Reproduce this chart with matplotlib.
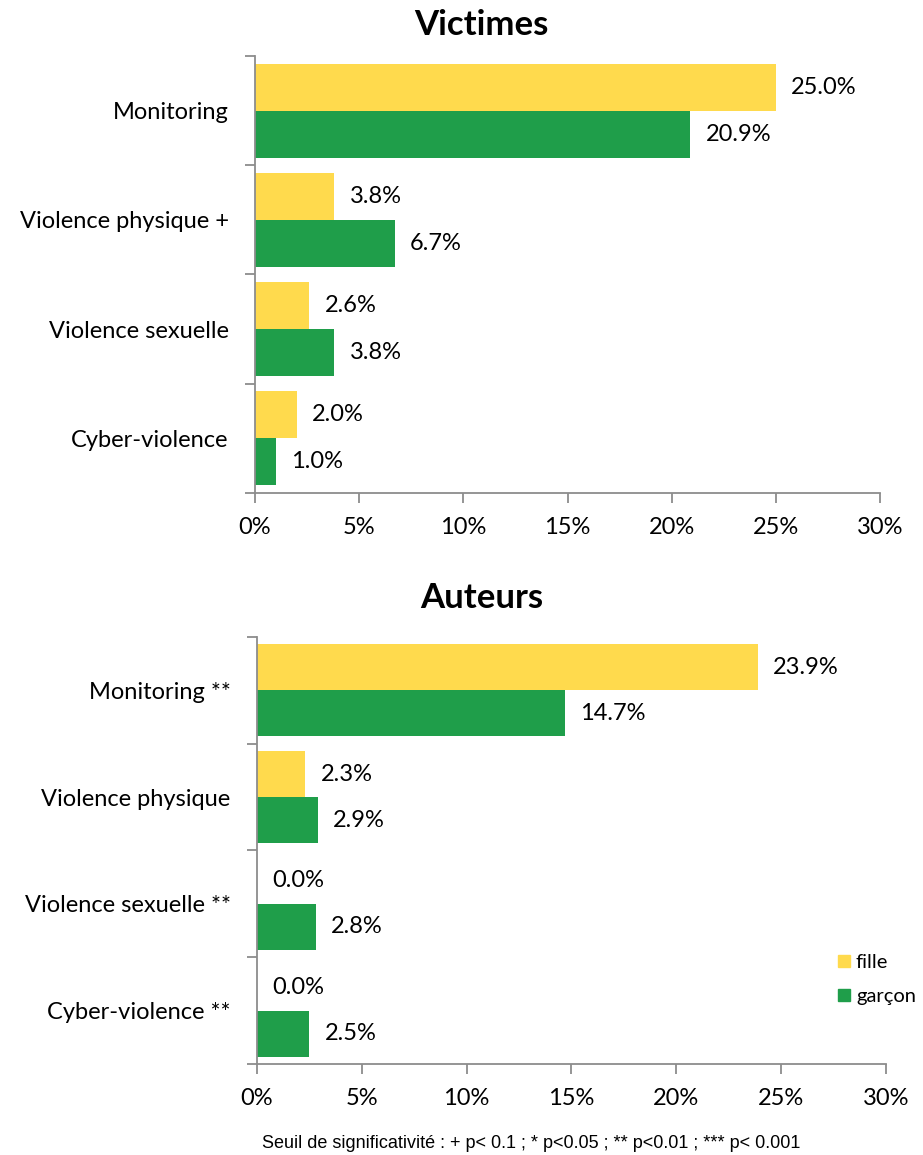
import matplotlib

matplotlib.use("Agg")
import matplotlib.pyplot as plt
from matplotlib.patches import Patch

plt.rcParams["font.family"] = ["Lato", "DejaVu Sans"]

# Prevalence (%) by sex, victims and perpetrators
victim_categories = ["Monitoring", "Violence physique +", "Violence sexuelle", "Cyber-violence"]
victim_fille = [25.0, 3.8, 2.6, 2.0]
victim_garcon = [20.9, 6.7, 3.8, 1.0]

author_categories = ["Monitoring **", "Violence physique", "Violence sexuelle **", "Cyber-violence **"]
author_fille = [23.9, 2.3, 0.0, 0.0]
author_garcon = [14.7, 2.9, 2.8, 2.5]

series_labels = ["fille", "garçon"]
x_ticks = [0, 5, 10, 15, 20, 25, 30]
footnote = "Seuil de significativité : + p< 0.1 ; * p<0.05 ; ** p<0.01 ; *** p< 0.001"

YELLOW = "#FFDA4D"
GREEN = "#1F9E4A"
AXIS_GREY = "#8C8C8C"
BAR_H = 0.43
FS = 17


def draw_panel(ax, categories, fille, garcon):
    n = len(categories)
    pos = list(range(n))
    ax.barh([p - BAR_H / 2 for p in pos], fille, height=BAR_H, color=YELLOW)
    ax.barh([p + BAR_H / 2 for p in pos], garcon, height=BAR_H, color=GREEN)
    for p, vf, vg in zip(pos, fille, garcon):
        ax.annotate(f"{vf:.1f}%", (vf, p - BAR_H / 2), xytext=(11, 0),
                    textcoords="offset points", va="center", ha="left", fontsize=FS)
        ax.annotate(f"{vg:.1f}%", (vg, p + BAR_H / 2), xytext=(11, 0),
                    textcoords="offset points", va="center", ha="left", fontsize=FS)

    ax.set_xlim(0, 30)
    ax.set_ylim(n - 0.5, -0.5)
    ax.set_xticks(x_ticks)
    ax.set_xticklabels([f"{t}%" for t in x_ticks], fontsize=FS)
    ax.set_yticks(pos)
    ax.set_yticklabels(categories, fontsize=FS)
    ax.set_yticks([p - 0.5 for p in range(n + 1)], minor=True)

    for side in ("top", "right"):
        ax.spines[side].set_visible(False)
    for side in ("left", "bottom"):
        ax.spines[side].set_color(AXIS_GREY)
        ax.spines[side].set_linewidth(1.3)
    ax.tick_params(axis="y", which="major", length=0, pad=19)
    ax.tick_params(axis="y", which="minor", length=7, width=1.3, color=AXIS_GREY)
    ax.tick_params(axis="x", length=7, width=1.3, color=AXIS_GREY, pad=10)


fig = plt.figure(figsize=(9.23, 11.55), dpi=100)
ax_v = fig.add_axes([0.2763, 0.5732, 0.6771, 0.3784])
ax_a = fig.add_axes([0.2784, 0.0788, 0.6815, 0.3697])

draw_panel(ax_v, victim_categories, victim_fille, victim_garcon)
draw_panel(ax_a, author_categories, author_fille, author_garcon)

fig.text(0.522, 1 - 25 / 1155, "Victimes", ha="center", va="center",
         fontsize=25, fontweight="bold")
fig.text(0.522, 1 - 598 / 1155, "Auteurs", ha="center", va="center",
         fontsize=25, fontweight="bold")

fig.legend(handles=[Patch(color=YELLOW), Patch(color=GREEN)], labels=series_labels,
           loc="upper left", bbox_to_anchor=(0.899, 1 - 946 / 1155), frameon=False,
           fontsize=14.5, handlelength=0.6, handleheight=0.6, handletextpad=0.3,
           labelspacing=0.85, borderaxespad=0)

fig.text(0.575, 1 - 1143 / 1155, footnote, ha="center", va="center",
         fontsize=13, family=["Liberation Sans", "DejaVu Sans"])

fig.savefig("out.png", dpi=100)
